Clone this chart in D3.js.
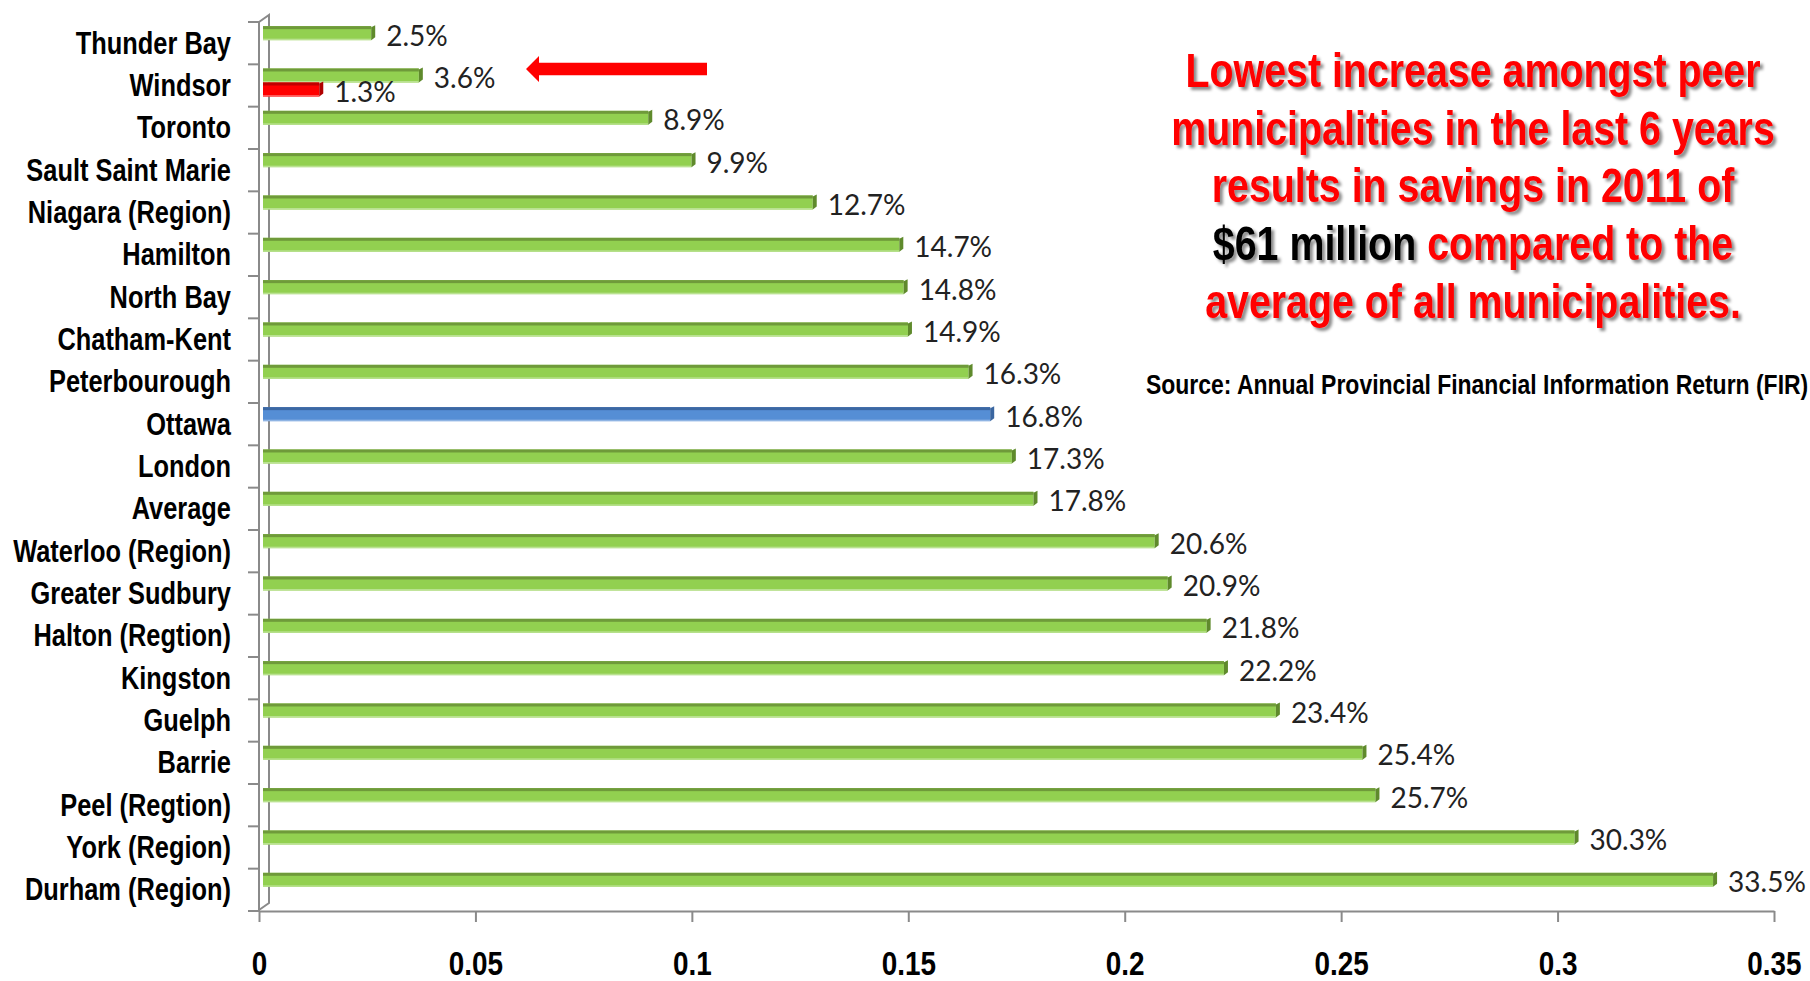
<!DOCTYPE html>
<html>
<head>
<meta charset="utf-8">
<title>Increase amongst peer municipalities</title>
<style>
    body{margin:0;background:#fff;}
    svg{display:block;}
    .narrow{font-family:"Liberation Sans",Arial,sans-serif;font-weight:bold;}
</style>
</head>
<body>
<script src="https://cdn.jsdelivr.net/npm/d3@7"></script>
<script>
    var width = 1810;
    var height = 981;

    var categories = ["Thunder Bay", "Windsor", "Toronto", "Sault Saint Marie", "Niagara (Region)",
        "Hamilton", "North Bay", "Chatham-Kent", "Peterbourough", "Ottawa", "London", "Average",
        "Waterloo (Region)", "Greater Sudbury", "Halton (Regtion)", "Kingston", "Guelph", "Barrie",
        "Peel (Regtion)", "York (Region)", "Durham (Region)"];
    var increase = [0.025, 0.036, 0.089, 0.099, 0.127, 0.147, 0.148, 0.149, 0.163, 0.168, 0.173,
        0.178, 0.206, 0.209, 0.218, 0.222, 0.234, 0.254, 0.257, 0.303, 0.335];
    // second series, only Windsor has a value
    var secondSeries = [null, 0.013, null, null, null, null, null, null, null, null, null,
        null, null, null, null, null, null, null, null, null, null];
    var xTicks = [0, 0.05, 0.1, 0.15, 0.2, 0.25, 0.3, 0.35];
    var highlight = "Ottawa";

    var svg = d3.select("body")
            .append("svg")
            .attr("width", width)
            .attr("height", height);

    var x = d3.scaleLinear().domain([0, 0.35]).range([259, 1774]);
    var y = d3.scaleBand().domain(categories).range([22, 911]);
    var ys = d3.scaleBand().domain(["a", "b"]).range([0, y.bandwidth()]).paddingOuter(0.51);
    var depth = {dx: 4, dy: -3};   // 3d offset of the bars
    var pct = d3.format(".1%");
    var gray = "#8a8a8a";
    var squeeze = 0.82;             // fake "Arial Narrow" by squeezing Liberation Sans bold

    var colors = {
        green: {face: "#92d050", top: "#6f9a3a", cap: "#5f8a2c", low: "#b9e290"},
        blue:  {face: "#558ed5", top: "#3c68a3", cap: "#3a66a0", low: "#8fb4e3"},
        red:   {face: "#ff0000", top: "#c00000", cap: "#b00000", low: "#ff5a5a"}
    };

    var defs = svg.append("defs");
    var shadow = defs.append("filter").attr("id", "shadow")
            .attr("x", "-5%").attr("y", "-20%").attr("width", "110%").attr("height", "150%");
    shadow.append("feDropShadow")
            .attr("dx", 3).attr("dy", 3).attr("stdDeviation", 1.6)
            .attr("flood-color", "#000").attr("flood-opacity", 0.45);

    // build bar list from both series
    var bars = [];
    categories.forEach(function(c, i){
        bars.push({cat: c, s: "a", v: increase[i], col: c === highlight ? colors.blue : colors.green});
        if (secondSeries[i] != null) {
            bars.push({cat: c, s: "b", v: secondSeries[i], col: colors.red});
        }
    });

    // back wall and axes
    var axisG = svg.append("g").attr("stroke", gray).attr("stroke-width", 2).attr("fill", "none");
    axisG.append("path")
            .attr("d", "M" + x(0) + "," + y.range()[0] + "L" + (x(0) + 10) + "," + (y.range()[0] - 7) +
                "L" + (x(0) + 10) + "," + (y.range()[1] - 8) + "L" + x(0) + "," + (y.range()[1] - 1));
    axisG.append("line")
            .attr("x1", x(0)).attr("x2", x(0))
            .attr("y1", y.range()[0]).attr("y2", y.range()[1]);
    axisG.selectAll("line.ytick")
            .data(categories.map(function(c){ return y(c); }).concat([y.range()[1]]))
            .enter().append("line")
            .attr("class", "ytick")
            .attr("x1", x(0) - 11).attr("x2", x(0))
            .attr("y1", function(d){ return d; }).attr("y2", function(d){ return d; });

    var xAxis = d3.axisBottom(x)
            .tickValues(xTicks)
            .tickFormat(d3.format(""))
            .tickSize(11)
            .tickSizeOuter(0)
            .tickPadding(29);
    var gx = svg.append("g")
            .attr("transform", "translate(0," + y.range()[1] + ")")
            .call(xAxis);
    gx.select(".domain").attr("stroke", gray).attr("stroke-width", 2);
    gx.selectAll(".tick line").attr("stroke", gray).attr("stroke-width", 2);
    gx.selectAll(".tick text")
            .attr("class", "narrow")
            .attr("fill", "#000")
            .attr("transform", "scale(" + squeeze + ",1)")
            .style("font-size", "34px");

    // bars
    var barH = ys.bandwidth();
    var g = svg.selectAll("g.bar")
            .data(bars)
            .enter()
            .append("g")
            .attr("class", "bar")
            .attr("transform", function(d){
                return "translate(" + depth.dx + "," + (y(d.cat) + ys(d.s) + depth.dy) + ")";
            });
    g.append("rect")
            .attr("x", x(0))
            .attr("y", 0)
            .attr("width", function(d){ return x(d.v) - x(0); })
            .attr("height", barH)
            .attr("fill", function(d){ return d.col.face; });
    g.append("rect")
            .attr("x", x(0))
            .attr("y", 0)
            .attr("width", function(d){ return x(d.v) - x(0); })
            .attr("height", 3)
            .attr("fill", function(d){ return d.col.top; });
    g.append("rect")
            .attr("x", x(0))
            .attr("y", barH - 1.5)
            .attr("width", function(d){ return x(d.v) - x(0); })
            .attr("height", 1.5)
            .attr("fill", function(d){ return d.col.low; });
    g.append("path")
            .attr("d", function(d){
                var e = x(d.v);
                return "M" + e + ",1L" + (e + 4) + ",-1L" + (e + 4) + "," + (barH - 3) + "L" + e + "," + barH + "Z";
            })
            .attr("fill", function(d){ return d.col.cap; });

    // value labels
    svg.selectAll("text.val")
            .data(bars)
            .enter()
            .append("text")
            .attr("class", "val")
            .attr("x", function(d){ return x(d.v) + 19; })
            .attr("y", function(d){ return y(d.cat) + ys(d.s) + barH / 2 + 9.5; })
            .attr("font-family", "Lato, 'Open Sans', sans-serif")
            .attr("font-size", 28)
            .attr("fill", "#222")
            .text(function(d){ return pct(d.v); });

    // category labels
    svg.selectAll("text.cat")
            .data(categories)
            .enter()
            .append("text")
            .attr("class", "narrow")
            .attr("transform", function(d){
                return "translate(231," + (y(d) + y.bandwidth() / 2 + 10.5) + ") scale(" + squeeze + ",1)";
            })
            .attr("text-anchor", "end")
            .attr("fill", "#000")
            .style("font-size", "31px")
            .text(function(d){ return d; });

    // arrow pointing at Windsor
    var ay = y("Windsor") + 4.7;
    svg.append("path")
            .attr("d", "M526," + ay + "L539," + (ay - 13) + "L539," + (ay - 6.3) + "L707," + (ay - 6.3) +
                "L707," + (ay + 6.3) + "L539," + (ay + 6.3) + "L539," + (ay + 13) + "Z")
            .attr("fill", "#ff0000");

    // annotation
    var noteLines = [
        [["Lowest increase amongst peer", "#ff0000"]],
        [["municipalities in the last 6 years", "#ff0000"]],
        [["results in savings in 2011 of", "#ff0000"]],
        [["$61 million ", "#000"], ["compared to the", "#ff0000"]],
        [["average of all municipalities.", "#ff0000"]]
    ];
    var note = svg.append("g").attr("filter", "url(#shadow)");
    noteLines.forEach(function(line, i){
        var t = note.append("text")
                .attr("class", "narrow")
                .attr("transform", "translate(1473," + (87 + i * 57.7) + ") scale(" + squeeze + ",1)")
                .attr("text-anchor", "middle")
                .style("font-size", "48px");
        line.forEach(function(seg){
            t.append("tspan").attr("fill", seg[1]).text(seg[0]);
        });
    });

    svg.append("text")
            .attr("class", "narrow")
            .attr("transform", "translate(1146,394) scale(" + squeeze + ",1)")
            .attr("fill", "#000")
            .style("font-size", "28px")
            .text("Source: Annual Provincial Financial Information Return (FIR)");
</script>
</body>
</html>
